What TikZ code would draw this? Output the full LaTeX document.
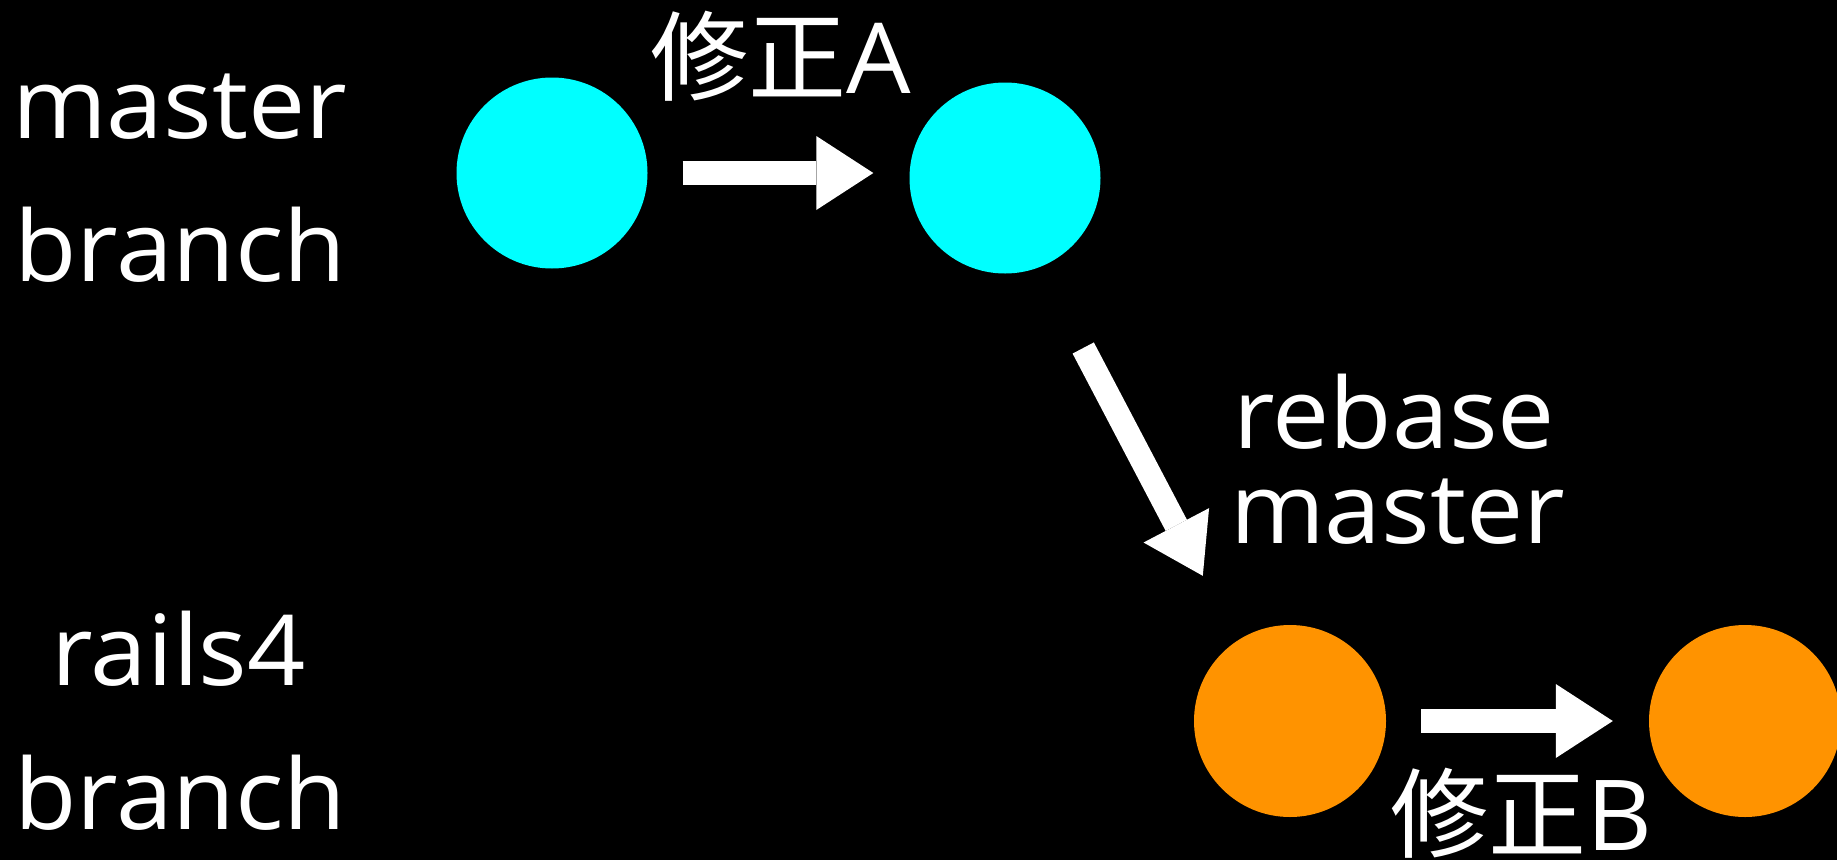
\documentclass[tikz,border=0pt]{standalone}
\usepackage{fontspec}
\setmainfont{Open Sans}[FakeStretch=1.04]
\newfontfamily\jpfont{Noto Sans CJK JP}
\usepackage{xcolor}
\usepackage{tikz}
\usetikzlibrary{arrows.meta,positioning,calc}
\definecolor{headcyan}{HTML}{00FFFF}
\definecolor{topicorange}{HTML}{FF9300}
\newcommand{\bigtxt}{\fontsize{98pt}{98pt}\selectfont}
\tikzset{
  >={Triangle[length=57pt,width=74pt,line width=0pt]},
  cmtA/.style ={circle, fill=headcyan, minimum size=191pt, inner sep=0pt},
  cmtB/.style ={circle, fill=topicorange, minimum size=192pt, inner sep=0pt},
  con/.style  ={->, draw=white, line width=24pt},
  lbl/.style  ={anchor=base west, inner sep=0pt, text=white, font=\bigtxt},
}
\begin{document}
\begin{tikzpicture}[x=1pt,y=-1pt]
\fill[black] (0,0) rectangle (1837,860);
\useasboundingbox (0,0) rectangle (1837,860);
\node[cmtA] (a1) at (552,173) {};
\node[cmtA] (a2) at (1005,178) {};
\node[cmtB] (b1) at (1290,721) {};
\node[cmtB] (b2) at (1745,721) {};
\node[lbl] (mas)  at (12,138)   {master};
\node[lbl] (brA)  at (14,281)   {branch};
\node[lbl] (rls)  at (51,685)   {rails4};
\node[lbl] (brB)  at (14,829)   {branch};
\node[lbl] (fixA) at (650,93)   {{\jpfont 修正}A};
\node[lbl] (rb)   at (1233,448) {rebase};
\node[lbl] (rbm)  at (1230,543) {master};
\node[lbl] (fixB) at (1390,850) {{\jpfont 修正}B};
\draw[con, shorten <=35pt, shorten >=36pt] (a1.east) -- (a1.east -| a2.west);
\draw[con, shorten <=35pt, shorten >=36pt] (b1) -- (b2);
\draw[con, shorten <=192pt, shorten >=164pt] ([xshift=-11pt]a2.center) -- ([xshift=-11pt]b1.center);
\end{tikzpicture}
\end{document}
